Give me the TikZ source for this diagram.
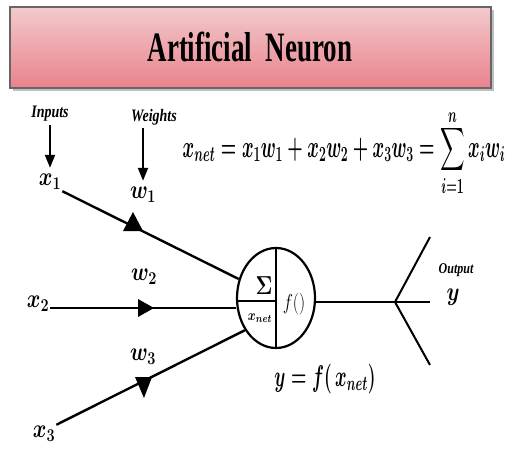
\documentclass[tikz,border=0pt]{standalone}
\usepackage{amsmath,amssymb}
\usepackage{fontspec}
\setmainfont{Liberation Serif}
\usepackage{tikz}
\usetikzlibrary{arrows.meta, shapes.geometric}
\definecolor{titletop}{RGB}{242,202,204}
\definecolor{titlebot}{RGB}{234,130,140}
\tikzset{
  synapse/.style={line width=2.4pt},      % input and output lines
  pointer/.style={line width=2pt, -{Triangle[width=10pt,length=13pt]}, shorten >=5pt, shorten <=2pt},
  tag/.style={font=\fontsize{14}{14}\selectfont\bfseries\itshape, yscale=1.25, inner sep=1pt},
  var/.style={font=\fontsize{20}{20}\selectfont\boldmath, yscale=1.25, inner sep=1pt},
  neuron/.style={draw, ellipse, line width=2.2pt, minimum width=78pt, minimum height=100pt, inner sep=0pt}
}

\begin{document}
\begin{tikzpicture}[x=1pt, y=-1pt]
    \useasboundingbox (0,0) rectangle (510,455);

    % Title bar with a soft shadow
    \fill[black!25] (13,10) rectangle (494,91);
    \shade[top color=titletop, bottom color=titlebot, draw=black!60, line width=1.2pt] (10,7) rectangle (491,88);
    \node[yscale=1.55] (title) at (250,47) {\fontsize{27}{27}\selectfont\bfseries Artificial\ \ Neuron};

    % Labels above the inputs and the weights
    \node[tag] (inputs) at (50,114) {Inputs};
    \node[tag] (weights) at (154,117) {Weights};

    % Inputs and weights
    \node[var] (x1) at (50,182) {$x_1$};
    \node[var] (x2) at (38,304) {$x_2$};
    \node[var] (x3) at (44,434) {$x_3$};
    \node[var] (w1) at (143,195) {$w_1$};
    \node[var] (w2) at (144,277) {$w_2$};
    \node[var] (w3) at (143,357) {$w_3$};

    % The neuron: sum on the left, activation on the right
    \node[neuron] (neuron) at (276,298) {};
    \coordinate (split) at (276,301);
    \draw[line width=2pt] (neuron.north) -- (neuron.south);
    \draw[line width=2pt] (split -| neuron.west) -- (split);
    \node[var] (sigma) at (264,286) {$\Sigma$};
    \node[var, font=\fontsize{13}{13}\selectfont\boldmath] (xnet) at (260,318) {$x_{net}$};
    \node[var, font=\fontsize{17}{17}\selectfont] (fun) at (294,304) {$f()$};

    % Pointers from the labels
    \draw[pointer] (inputs.south -| x1) -- (x1.north);
    \draw[pointer] (weights.south -| w1) -- (w1.north);

    % Input lines into the neuron
    \coordinate (x2 end) at (50,308);
    \draw[synapse] (x1.south east) -- (neuron.153);
    \draw[synapse] (x2 end) -- (x2 end -| neuron.west);
    \draw[synapse] (x3.north east) -- (neuron.226);

    % weight markers on the lines
    \fill (133,212) -- (143,231) -- (123,231) -- cycle;
    \fill (138,299) -- (154,308) -- (138,317) -- cycle;
    \fill (135,377) -- (152,377) -- (144,398) -- cycle;

    % Output line and its branches
    \coordinate (fork) at (395,302);
    \coordinate (branch up) at (430,237);
    \coordinate (branch mid) at (430,302);
    \coordinate (branch down) at (430,365);
    \draw[synapse] (fork -| neuron.east) -- (fork);
    \draw[line width=2pt] (fork) -- (branch up);
    \draw[line width=2pt] (fork) -- (branch mid);
    \draw[line width=2pt] (fork) -- (branch down);
    \node[tag, font=\fontsize{12}{12}\selectfont\bfseries\itshape] (output) at (456,270) {Output};
    \node[var] (y) at (453,297) {$y$};

    % Equations
    \node[var, xscale=0.85, yscale=1.2] (xneteq) at (344,156)
      {$\displaystyle x_{net} = x_1w_1 + x_2w_2 + x_3w_3 = \sum_{\raisebox{4pt}{$\scriptstyle i=1$}}^{\raisebox{-2pt}{$\scriptstyle n$}} x_iw_i$};
    \node[var, xscale=0.85, yscale=1.15] (yeq) at (325,379) {$y = f(\,x_{net})$};
\end{tikzpicture}
\end{document}
